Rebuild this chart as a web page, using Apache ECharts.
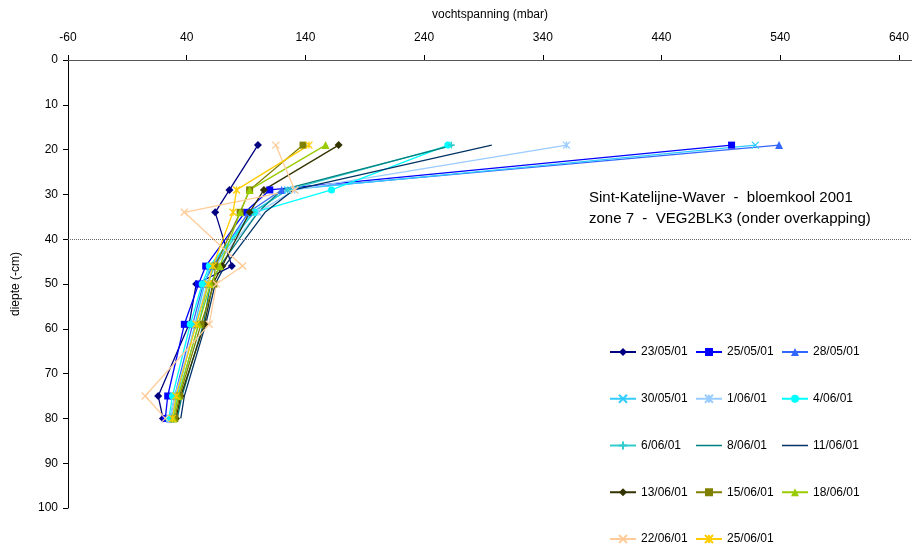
<!DOCTYPE html>
<html>
<head>
<meta charset="utf-8">
<script src="https://cdn.jsdelivr.net/npm/echarts@6/dist/echarts.min.js"></script>
<style>
  html, body { margin: 0; padding: 0; background: #fff; }
  #chart { width: 912px; height: 550px; }
</style>
</head>
<body>
<div id="chart"></div>
<script>
// diepte (cm) van de meetpunten
const depths = [19, 29, 34, 46, 50, 59, 75, 80];
const xTicks = [-60, 40, 140, 240, 340, 440, 540, 640];

// vochtspanning (mbar) per meetdatum
const v2305 = [100, 76, 64, 78, 48, 42, 16, 20];
const v2505 = [499, 110, 89, 56, 50, 38, 24, 22];
const v2805 = [539, 120, 92, 62, 54, 45, 30, 26];
const v3005 = [519, 125, 95, 60, 55, 47, 32, 27];
const v0106 = [360, 131, 100, 64, 57, 48, 30, 26];
const v0406 = [260, 162, 97, 59, 53, 43, 28, 25];
const v0606 = [263, 125, 96, 63, 58, 50, 33, 28];
const v0806 = [265, 120, 100, 68, 60, 54, 36, 32];
const v1106 = [297, 130, 106, 72, 64, 56, 38, 35];
const v1306 = [168, 105, 93, 70, 62, 55, 35, 31];
const v1506 = [138, 93, 85, 64, 63, 52, 34, 30];
const v1806 = [157, 93, 85, 68, 60, 50, 33, 29];
const v2206 = [115, 131, 38, 87, 65, 59, 5, 22];
const v2506 = [143, 82, 79, 62, 58, 48, 31, 28];

const X_PATH = 'path://M0,0L10,10M10,0L0,10';
const STAR_PATH = 'path://M0,0L10,10M10,0L0,10M5,0L5,10';
const PLUS_PATH = 'path://M5,0L5,10M0,5L10,5';
// lijn zonder markering, voor de legende
const LINE_ICON = 'path://M0,0h0.01v0.01h-0.01zM0,4.3h26v1.4h-26zM0,9.99h0.01v0.01h-0.01z';

const defs = [
  { name: '23/05/01', data: v2305, color: '#000080', symbol: 'diamond', size: 8 },
  { name: '25/05/01', data: v2505, color: '#0000FF', symbol: 'rect', size: 7 },
  { name: '28/05/01', data: v2805, color: '#3366FF', symbol: 'triangle', size: 8 },
  { name: '30/05/01', data: v3005, color: '#33CCFF', symbol: X_PATH, size: 7, stroke: true },
  { name: '1/06/01', data: v0106, color: '#99CCFF', symbol: STAR_PATH, size: 7, stroke: true },
  { name: '4/06/01', data: v0406, color: '#00FFFF', symbol: 'circle', size: 7 },
  { name: '6/06/01', data: v0606, color: '#33CCCC', symbol: PLUS_PATH, size: 7, stroke: true },
  { name: '8/06/01', data: v0806, color: '#008080', symbol: 'none', size: 0 },
  { name: '11/06/01', data: v1106, color: '#003366', symbol: 'none', size: 0 },
  { name: '13/06/01', data: v1306, color: '#333300', symbol: 'diamond', size: 8 },
  { name: '15/06/01', data: v1506, color: '#808000', symbol: 'rect', size: 7 },
  { name: '18/06/01', data: v1806, color: '#99CC00', symbol: 'triangle', size: 8 },
  { name: '22/06/01', data: v2206, color: '#FFCC99', symbol: X_PATH, size: 7, stroke: true },
  { name: '25/06/01', data: v2506, color: '#FFCC00', symbol: STAR_PATH, size: 7, stroke: true }
];

const font = "'Liberation Sans', Arial, sans-serif";

const series = defs.map(function (d, i) {
  const s = {
    name: d.name,
    type: 'line',
    data: d.data.map(function (v, k) { return [v, depths[k]]; }),
    symbol: d.symbol,
    symbolSize: d.size,
    showAllSymbol: true,
    color: d.color,
    lineStyle: { color: d.color, width: 1.3 },
    itemStyle: {
      color: d.color,
      borderColor: d.color,
      borderWidth: d.stroke ? 1.3 : 0
    },
    emphasis: { disabled: true },
    z: 3
  };
  if (i === 0) {
    s.markLine = {
      silent: true,
      symbol: 'none',
      label: { show: false },
      lineStyle: { color: '#666', type: [1, 1], width: 1 },
      data: [{ yAxis: 40 }]
    };
  }
  return s;
});

function legendItem(name) {
  const d = defs.find(function (x) { return x.name === name; });
  if (d.symbol === 'none') {
    return { name: name, icon: LINE_ICON, itemStyle: { color: d.color, borderWidth: 0 } };
  }
  return { name: name };
}

const legendCols = [
  ['23/05/01', '30/05/01', '6/06/01', '13/06/01', '22/06/01'],
  ['25/05/01', '1/06/01', '8/06/01', '15/06/01', '25/06/01'],
  ['28/05/01', '4/06/01', '11/06/01', '18/06/01']
];
const legendLeft = [609, 695, 781];

const chart = echarts.init(document.getElementById('chart'));
chart.setOption({
  animation: false,
  textStyle: { fontFamily: font },
  title: {
    text: 'Sint-Katelijne-Waver  -  bloemkool 2001\nzone 7  -  VEG2BLK3 (onder overkapping)',
    left: 584,
    top: 182,
    textStyle: { fontFamily: font, fontSize: 15, fontWeight: 'normal', color: '#000', lineHeight: 21 }
  },
  legend: legendCols.map(function (col, i) {
    return {
      data: col.map(legendItem),
      orient: 'vertical',
      left: legendLeft[i],
      top: 345,
      padding: 0,
      itemWidth: 26,
      itemHeight: 10,
      itemGap: 32.75,
      selectedMode: false,
      textStyle: { fontFamily: font, fontSize: 12, color: '#000', lineHeight: 14 }
    };
  }),
  grid: { left: 68, right: 0, top: 60, bottom: 42, containLabel: false },
  xAxis: {
    type: 'value',
    position: 'top',
    min: -60,
    max: 651,
    name: 'vochtspanning (mbar)',
    nameLocation: 'middle',
    nameGap: 39,
    nameTextStyle: { fontFamily: font, fontSize: 12, color: '#000' },
    axisLine: { show: true, onZero: false, lineStyle: { color: '#555', width: 1 } },
    axisTick: { show: true, length: 5, customValues: xTicks, lineStyle: { color: '#000' } },
    axisLabel: { customValues: xTicks, fontFamily: font, fontSize: 12, color: '#000', margin: 16 },
    splitLine: { show: false }
  },
  yAxis: {
    type: 'value',
    inverse: true,
    min: 0,
    max: 100,
    interval: 10,
    name: 'diepte (-cm)',
    nameLocation: 'middle',
    nameGap: 46,
    nameTextStyle: { fontFamily: font, fontSize: 12, color: '#000' },
    axisLine: { show: true, onZero: false, lineStyle: { color: '#000', width: 1 } },
    axisTick: { show: true, length: 5, lineStyle: { color: '#000' } },
    axisLabel: { fontFamily: font, fontSize: 12, color: '#000', margin: 10 },
    splitLine: { show: false }
  },
  series: series
});
</script>
</body>
</html>
